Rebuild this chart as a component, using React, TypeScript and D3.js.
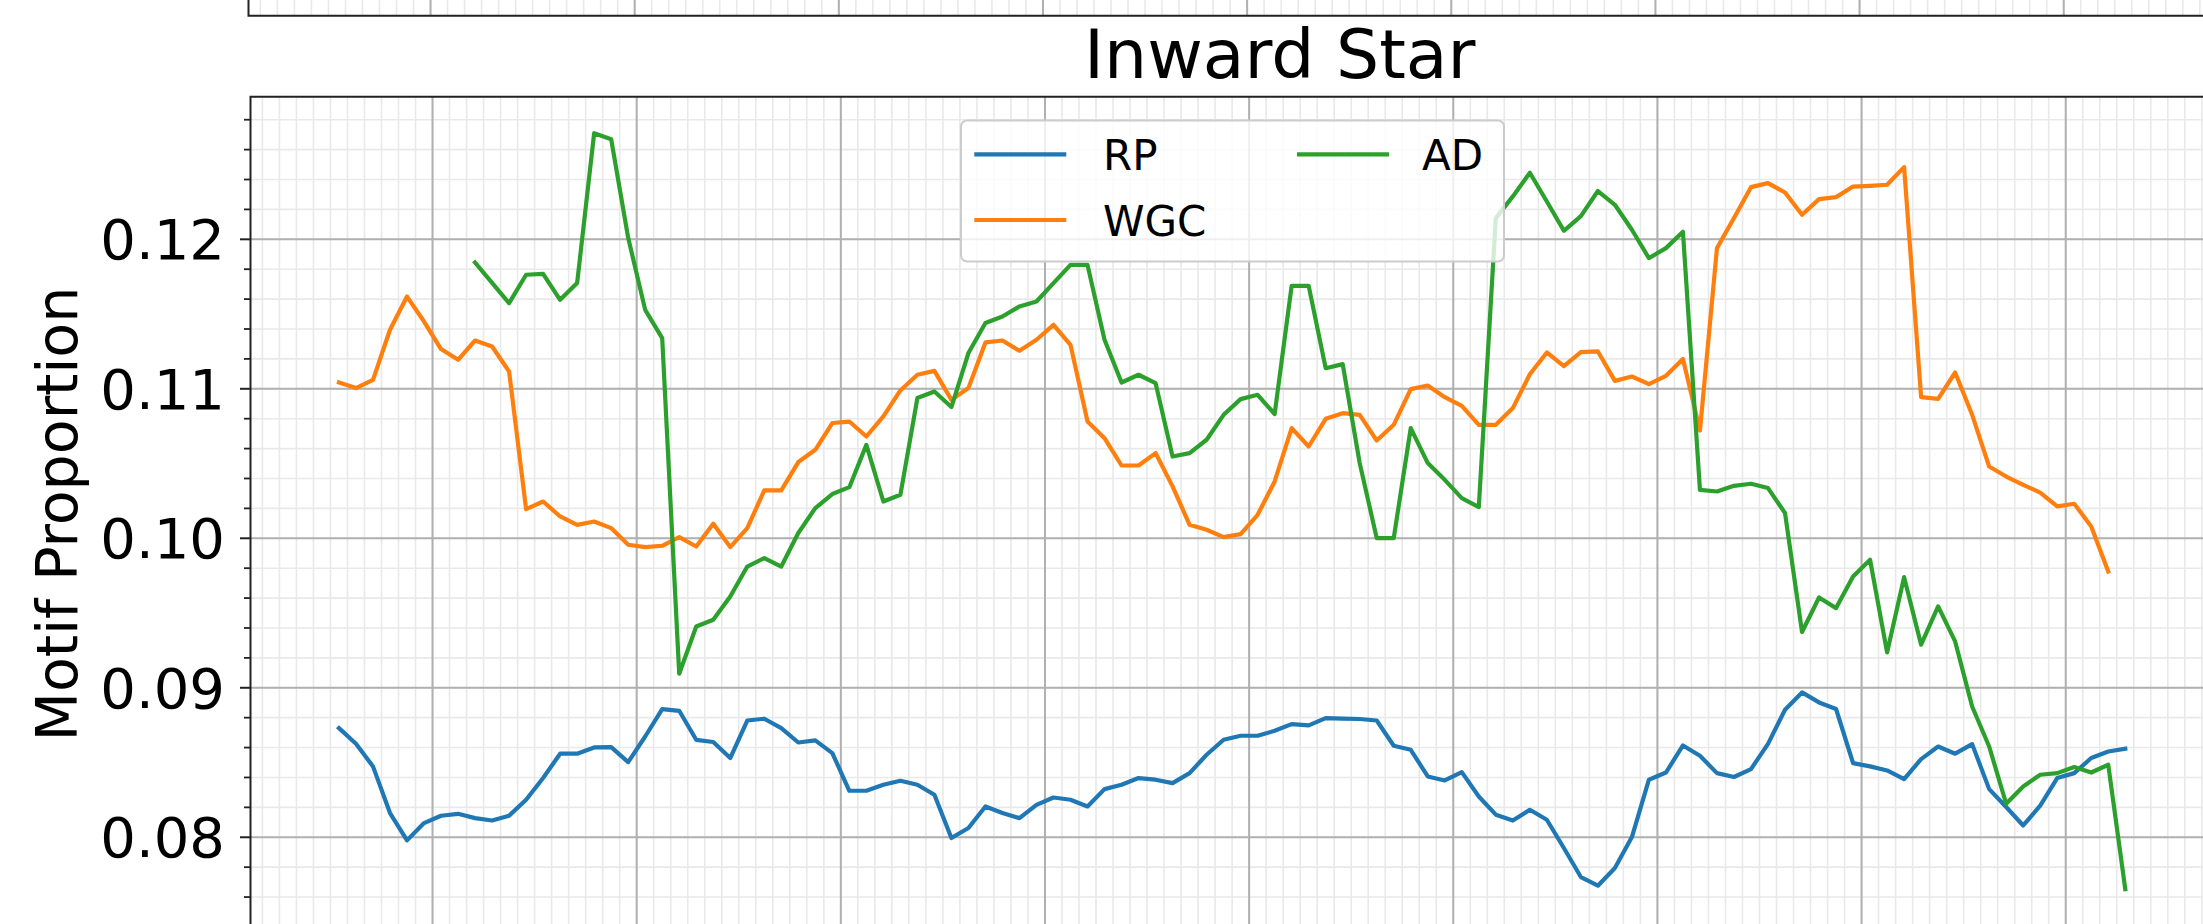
import React, { useEffect, useRef } from "react";
import * as d3 from "d3";

// monthly values, index 0 is the first month on the axis
const rpValues = [
    0.0873, 0.08625, 0.08474, 0.08162, 0.07979, 0.08095, 0.08144, 0.08157, 0.08128, 0.08112,
    0.08144, 0.08251, 0.08396, 0.08559, 0.08559, 0.08601, 0.08603, 0.08503, 0.08674, 0.08857,
    0.08846, 0.08652, 0.08637, 0.0853, 0.08781, 0.08793, 0.0873, 0.08634, 0.08648, 0.08563,
    0.08311, 0.08311, 0.08351, 0.08378, 0.08351, 0.08284, 0.07995, 0.08062, 0.08206, 0.08162,
    0.08128, 0.08217, 0.08266, 0.08251, 0.08206, 0.08322, 0.08351, 0.08396, 0.08385, 0.08362,
    0.08429, 0.08552, 0.08652, 0.08679, 0.08679, 0.08712, 0.08757, 0.08748, 0.08797, 0.08793,
    0.08791, 0.08781, 0.08612, 0.08585, 0.08407, 0.0838, 0.08436, 0.08273, 0.08151, 0.08112,
    0.08184, 0.08117, 0.07928, 0.07734, 0.07676, 0.07794, 0.08001, 0.08385, 0.08433, 0.08614,
    0.08545, 0.08429, 0.08403, 0.08456, 0.08625, 0.08853, 0.08969, 0.08902, 0.08858, 0.08496,
    0.08474, 0.08447, 0.08389, 0.08523, 0.08607, 0.08559, 0.08623, 0.08322, 0.08202, 0.08079,
    0.08211, 0.08396, 0.08429, 0.0853, 0.08574, 0.08592,
];

const wgcValues = [
    0.11042, 0.11005, 0.1106, 0.11395, 0.11617, 0.1145, 0.11266, 0.11194, 0.11323, 0.11283,
    0.11116, 0.10195, 0.10246, 0.10146, 0.1009, 0.10112, 0.10068, 0.09957, 0.09941, 0.0995,
    0.10008, 0.09945, 0.10097, 0.09941, 0.10068, 0.1032, 0.1032, 0.1051, 0.10592, 0.10771,
    0.10781, 0.10681, 0.10815, 0.10989, 0.11094, 0.1112, 0.10926, 0.11005, 0.1131, 0.11323,
    0.11254, 0.11328, 0.11428, 0.11294, 0.10781, 0.1067, 0.10487, 0.10487, 0.1057, 0.10347,
    0.1009, 0.10057, 0.10008, 0.10028, 0.10157, 0.1038, 0.10737, 0.10614, 0.10799, 0.10837,
    0.10826, 0.10654, 0.10759, 0.10998, 0.11022, 0.10944, 0.10886, 0.10759, 0.10759, 0.10871,
    0.11097, 0.11243, 0.11152, 0.11245, 0.1125, 0.11053, 0.11082, 0.11031, 0.11087, 0.11199,
    0.10721, 0.11941, 0.12142, 0.12349, 0.12376, 0.12313, 0.12164, 0.12269, 0.12282, 0.12353,
    0.12358, 0.12365, 0.12483, 0.10944, 0.10933, 0.11109, 0.10826, 0.1048, 0.10413, 0.10358,
    0.10306, 0.10213, 0.10231, 0.10079, 0.09778,
];

const adValues = [
    null, null, null, null, null, null, null, null, 0.11845, 0.11709,
    0.11573, 0.11763, 0.11769, 0.11595, 0.11707, 0.1271, 0.1267, 0.1201, 0.11528, 0.11339,
    0.09094, 0.0941, 0.09455, 0.09611, 0.09811, 0.09868, 0.09811, 0.10035, 0.10202, 0.10296,
    0.10342, 0.10625, 0.10246, 0.10291, 0.10938, 0.10982, 0.10878, 0.11239, 0.1144, 0.11484,
    0.11551, 0.11584, 0.11707, 0.11829, 0.11829, 0.11328, 0.11042, 0.11094, 0.11038, 0.10547,
    0.1057, 0.10659, 0.10826, 0.10931, 0.1096, 0.10831, 0.11689, 0.11689, 0.11138, 0.11165,
    0.10503, 0.10001, 0.10001, 0.10737, 0.10503, 0.10391, 0.10269, 0.10209, 0.12142, 0.12287,
    0.12445, 0.12253, 0.12057, 0.12155, 0.12323, 0.12231, 0.12064, 0.11874, 0.11941, 0.1205,
    0.10324, 0.10313, 0.10351, 0.10365, 0.10336, 0.10169, 0.09373, 0.09604, 0.09533, 0.09745,
    0.09856, 0.09236, 0.0974, 0.09288, 0.09544, 0.0931, 0.08875, 0.08607, 0.08224, 0.0834,
    0.08418, 0.08429, 0.0847, 0.08433, 0.08485, 0.07653,
];

const seriesNames = ["RP", "WGC", "AD"];
const seriesColors = ["#1f77b4", "#ff7f0e", "#2ca02c"];

const yTicks = [0.08, 0.09, 0.1, 0.11, 0.12];
const yTickLabels = ["0.08", "0.09", "0.10", "0.11", "0.12"];

const App = () => {
    const svgRef = useRef(null);

    useEffect(() => {
        document.body.style.margin = "0";
        const width = 2203;
        const height = 924;
        const font = "DejaVu Sans";
        const minorGrid = "#e9e9e9";
        const lineWidth = 4.2;

        const svg = d3
            .select(svgRef.current)
            .attr("width", width)
            .attr("height", height)
            .style("display", "block")
            .style("background-color", "white");

        svg.selectAll("*").remove();

        // lower (visible) axes, it runs a bit past the picture's right and bottom edges
        const box = { left: 250.5, top: 96.7, right: 2309, bottom: 927.7 };
        const x = d3.scaleLinear().domain([-5.2, 115.8]).range([box.left, box.right]);
        const y = d3.scaleLinear().domain([0.07395, 0.12954]).range([box.bottom, box.top]);

        const minorX = d3.range(-4.5, 116, 1);
        const majorX = minorX.filter((v) => ((((v - 5.5) % 12) + 12) % 12) === 0);
        const minorY = d3.range(37, 65).map((k) => k * 0.002);

        const defs = svg.append("defs");
        defs.append("clipPath").attr("id", "plot-clip")
            .append("rect")
            .attr("x", box.left).attr("y", box.top)
            .attr("width", box.right - box.left).attr("height", box.bottom - box.top);
        defs.append("clipPath").attr("id", "upper-clip")
            .append("rect")
            .attr("x", 248.5).attr("y", -50)
            .attr("width", 2100).attr("height", 65.7);

        // bottom strip of the panel above
        const upper = svg.append("g").attr("clip-path", "url(#upper-clip)");
        upper.append("g")
            .selectAll("line")
            .data(minorX)
            .join("line")
            .attr("x1", (d) => x(d) - 2).attr("x2", (d) => x(d) - 2)
            .attr("y1", -50).attr("y2", 16)
            .attr("stroke", minorGrid).attr("stroke-width", 1.6);
        upper.append("g")
            .selectAll("line")
            .data(majorX)
            .join("line")
            .attr("x1", (d) => x(d) - 2).attr("x2", (d) => x(d) - 2)
            .attr("y1", -50).attr("y2", 16)
            .attr("stroke", "#b0b0b0").attr("stroke-width", 2);
        svg.append("path")
            .attr("d", `M248.5,-5V15.7H${width + 10}`)
            .attr("fill", "none").attr("stroke", "#222").attr("stroke-width", 2);

        // grid
        const plot = svg.append("g").attr("clip-path", "url(#plot-clip)");
        plot.append("g")
            .selectAll("line")
            .data(minorX)
            .join("line")
            .attr("x1", (d) => x(d)).attr("x2", (d) => x(d))
            .attr("y1", box.top).attr("y2", box.bottom)
            .attr("stroke", minorGrid).attr("stroke-width", 1.6);
        plot.append("g")
            .selectAll("line")
            .data(minorY)
            .join("line")
            .attr("x1", box.left).attr("x2", box.right)
            .attr("y1", (d) => y(d)).attr("y2", (d) => y(d))
            .attr("stroke", minorGrid).attr("stroke-width", 1.6);
        plot.append("g")
            .selectAll("line")
            .data(majorX)
            .join("line")
            .attr("x1", (d) => x(d)).attr("x2", (d) => x(d))
            .attr("y1", box.top).attr("y2", box.bottom)
            .attr("stroke", "#b0b0b0").attr("stroke-width", 2);
        plot.append("g")
            .selectAll("line")
            .data(yTicks)
            .join("line")
            .attr("x1", box.left).attr("x2", box.right)
            .attr("y1", (d) => y(d)).attr("y2", (d) => y(d))
            .attr("stroke", "#b0b0b0").attr("stroke-width", 2);

        // series
        const line = d3
            .line()
            .defined((d) => d != null)
            .x((d, i) => x(i))
            .y((d) => y(d));

        plot.append("g")
            .selectAll("path")
            .data([rpValues, wgcValues, adValues])
            .join("path")
            .attr("d", (d) => line(d))
            .attr("fill", "none")
            .attr("stroke", (d, i) => seriesColors[i])
            .attr("stroke-width", lineWidth)
            .attr("stroke-linejoin", "round")
            .attr("stroke-linecap", "square");

        // spines and y ticks
        svg.append("path")
            .attr("d", `M${box.left},${height + 10}V${box.top}H${width + 10}`)
            .attr("fill", "none").attr("stroke", "#222").attr("stroke-width", 2);

        svg.append("g")
            .selectAll("line")
            .data(minorY.filter((d) => Math.round(d * 1000) % 10 !== 0))
            .join("line")
            .attr("x1", box.left - 6.5).attr("x2", box.left)
            .attr("y1", (d) => y(d)).attr("y2", (d) => y(d))
            .attr("stroke", "#222").attr("stroke-width", 1.8);

        const yAxis = svg.append("g").attr("font-family", font).attr("font-size", 56);
        yAxis.selectAll("line")
            .data(yTicks)
            .join("line")
            .attr("x1", box.left - 10.5).attr("x2", box.left)
            .attr("y1", (d) => y(d)).attr("y2", (d) => y(d))
            .attr("stroke", "#222").attr("stroke-width", 2);
        yAxis.selectAll("text")
            .data(yTicks)
            .join("text")
            .attr("x", 225)
            .attr("y", (d) => y(d) + 20)
            .attr("text-anchor", "end")
            .attr("fill", "#000")
            .text((d, i) => yTickLabels[i]);

        svg.append("text")
            .attr("transform", "translate(76.5,514) rotate(-90)")
            .attr("text-anchor", "middle")
            .attr("font-family", font)
            .attr("font-size", 57)
            .text("Motif Proportion");

        svg.append("text")
            .attr("x", (box.left + box.right) / 2)
            .attr("y", 77.5)
            .attr("text-anchor", "middle")
            .attr("font-family", font)
            .attr("font-size", 68)
            .text("Inward Star");

        // legend, two columns
        const legend = svg.append("g").attr("font-family", font).attr("font-size", 42);
        legend.append("rect")
            .attr("x", 961).attr("y", 120.5)
            .attr("width", 543).attr("height", 141)
            .attr("rx", 6)
            .attr("fill", "white").attr("fill-opacity", 0.8)
            .attr("stroke", "#cccccc").attr("stroke-width", 2);

        const entries = [
            { col: 0, row: 0 },
            { col: 0, row: 1 },
            { col: 1, row: 0 },
        ];
        const colX = [974.3, 1297];
        const labelX = [1103, 1422];
        entries.forEach((e, i) => {
            const ly = 154.3 + e.row * 65.7;
            legend.append("line")
                .attr("x1", colX[e.col]).attr("x2", colX[e.col] + 92)
                .attr("y1", ly).attr("y2", ly)
                .attr("stroke", seriesColors[i])
                .attr("stroke-width", lineWidth);
            legend.append("text")
                .attr("x", labelX[e.col])
                .attr("y", ly + 16)
                .text(seriesNames[i]);
        });
    }, []);

    return (
        <div>
            <svg ref={svgRef} />
        </div>
    );
};

export default App;
